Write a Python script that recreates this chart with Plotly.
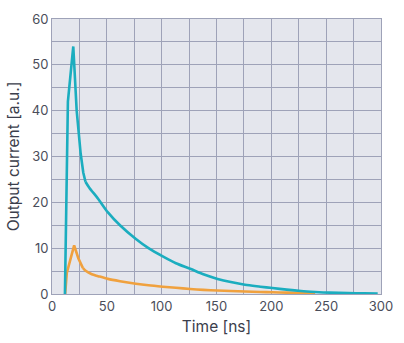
import plotly.graph_objects as go

# Time [ns] and output current [a.u.]
# rise + peak (sharp corners)
teal_peak_t = [11.8, 13.5, 14.5, 19.4, 22.5, 26.1, 28.5, 30.5]
teal_peak_v = [0, 30.7, 42, 54, 40, 30.7, 26.5, 24.5]
# slow decay (smooth)
teal_tail_t = [30.5, 34, 42, 51, 62, 76.5, 88, 101, 113, 126, 138, 151, 163, 176, 190, 201, 214, 227, 240, 253, 270, 285, 297]
teal_tail_v = [24.5, 23.2, 20.8, 17.8, 15.0, 12.0, 10.0, 8.2, 6.7, 5.5, 4.3, 3.3, 2.6, 2.0, 1.6, 1.3, 0.95, 0.65, 0.45, 0.3, 0.2, 0.15, 0.12]

orange_peak_t = [12.0, 13.5, 20.2, 24, 28.1]
orange_peak_v = [0, 4.6, 10.6, 7.8, 5.7]
orange_tail_t = [28.1, 31, 36.3, 42, 51, 62, 76.5, 88, 101, 113, 126, 138, 151, 163, 176, 190, 201, 214, 227, 240]
orange_tail_v = [5.7, 5.0, 4.3, 3.9, 3.3, 2.8, 2.25, 1.9, 1.6, 1.35, 1.1, 0.9, 0.75, 0.65, 0.55, 0.45, 0.38, 0.3, 0.25, 0.2]

x_ticks = [0, 50, 100, 150, 200, 250, 300]
y_ticks = [0, 10, 20, 30, 40, 50, 60]

grid = "#9ea2b8"
text = "#3b3e4c"
font = "Inter"
teal = "#1badbf"
orange = "#f0a13e"
lw = 2.6

fig = go.Figure()
fig.add_trace(go.Scatter(x=orange_peak_t, y=orange_peak_v, mode="lines",
                         line=dict(color=orange, width=lw), showlegend=False))
fig.add_trace(go.Scatter(x=orange_tail_t, y=orange_tail_v, mode="lines",
                         line=dict(color=orange, width=lw, shape="spline", smoothing=0.8), showlegend=False))
fig.add_trace(go.Scatter(x=teal_peak_t, y=teal_peak_v, mode="lines",
                         line=dict(color=teal, width=lw), showlegend=False))
fig.add_trace(go.Scatter(x=teal_tail_t, y=teal_tail_v, mode="lines",
                         line=dict(color=teal, width=lw, shape="spline", smoothing=0.8), showlegend=False))

fig.update_layout(
    width=404, height=343,
    margin=dict(l=52, r=11, t=12, b=48),
    paper_bgcolor="white",
    plot_bgcolor="#e4e6ed",
    font=dict(family=font, color=text, size=13),
)
fig.update_xaxes(
    range=[0, 300], tickvals=x_ticks, showgrid=True, gridcolor=grid, gridwidth=1,
    minor=dict(dtick=25, showgrid=True, gridcolor=grid, gridwidth=1),
    showline=True, linecolor=grid, linewidth=1, mirror=True, zeroline=False,
    ticks="", tickfont=dict(size=13, color="#4a4d5a"), ticklabeloverflow="allow",
    title=dict(text="Time [ns]", font=dict(size=15.5, color=text), standoff=8),
)
fig.update_yaxes(
    range=[0, 60], tickvals=y_ticks, showgrid=True, gridcolor=grid, gridwidth=1,
    minor=dict(dtick=5, showgrid=True, gridcolor=grid, gridwidth=1),
    showline=True, linecolor=grid, linewidth=1, mirror=True, zeroline=False,
    ticks="", tickfont=dict(size=13, color="#4a4d5a"), ticklabeloverflow="allow",
    title=dict(text="Output current [a.u.]", font=dict(size=15.5, color=text), standoff=8),
)

fig.write_html("out.html")
